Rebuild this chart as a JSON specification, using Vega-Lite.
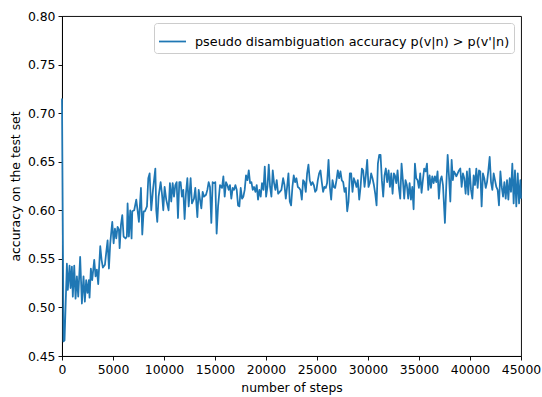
{
  "$schema": "https://vega.github.io/schema/vega-lite/v6.json",
  "width": 459,
  "height": 340,
  "autosize": "none",
  "padding": {"left": 62, "top": 16, "right": 21, "bottom": 41},
  "background": "white",
  "config": {
    "view": {"stroke": "black", "strokeWidth": 0.94},
    "axis": {
      "grid": false,
      "domainColor": "black",
      "domainWidth": 0.94,
      "tickColor": "black",
      "tickWidth": 0.94,
      "tickSize": 4,
      "labelPadding": 3,
      "labelFont": "DejaVu Sans",
      "labelFontSize": 12.4,
      "labelColor": "black",
      "titleFont": "DejaVu Sans",
      "titleFontSize": 12.4,
      "titleFontWeight": "normal",
      "titleColor": "black"
    },
    "legend": {
      "labelFont": "DejaVu Sans",
      "labelFontSize": 12.8,
      "labelColor": "black",
      "labelLimit": 500
    }
  },
  "data": {
    "values": [
      {"step": 0, "acc": 0.715}, {"step": 150, "acc": 0.465}, {"step": 250, "acc": 0.466},
      {"step": 480, "acc": 0.545}, {"step": 570, "acc": 0.518}, {"step": 740, "acc": 0.543},
      {"step": 840, "acc": 0.520}, {"step": 970, "acc": 0.542}, {"step": 1060, "acc": 0.511},
      {"step": 1200, "acc": 0.543}, {"step": 1330, "acc": 0.509}, {"step": 1460, "acc": 0.532},
      {"step": 1590, "acc": 0.511}, {"step": 1780, "acc": 0.552}, {"step": 1950, "acc": 0.504},
      {"step": 2110, "acc": 0.532}, {"step": 2240, "acc": 0.506}, {"step": 2370, "acc": 0.528},
      {"step": 2500, "acc": 0.515}, {"step": 2630, "acc": 0.528}, {"step": 2700, "acc": 0.510},
      {"step": 2830, "acc": 0.540}, {"step": 2960, "acc": 0.528}, {"step": 3160, "acc": 0.549},
      {"step": 3290, "acc": 0.532}, {"step": 3420, "acc": 0.539}, {"step": 3550, "acc": 0.524},
      {"step": 3750, "acc": 0.563}, {"step": 3880, "acc": 0.549}, {"step": 4010, "acc": 0.541},
      {"step": 4210, "acc": 0.544}, {"step": 4340, "acc": 0.557}, {"step": 4470, "acc": 0.569},
      {"step": 4600, "acc": 0.540}, {"step": 4730, "acc": 0.566}, {"step": 4860, "acc": 0.581},
      {"step": 4930, "acc": 0.588}, {"step": 5060, "acc": 0.566}, {"step": 5190, "acc": 0.581},
      {"step": 5320, "acc": 0.571}, {"step": 5450, "acc": 0.583}, {"step": 5580, "acc": 0.580},
      {"step": 5650, "acc": 0.561}, {"step": 5780, "acc": 0.585}, {"step": 5910, "acc": 0.595},
      {"step": 6040, "acc": 0.573}, {"step": 6230, "acc": 0.571}, {"step": 6360, "acc": 0.573},
      {"step": 6430, "acc": 0.607}, {"step": 6560, "acc": 0.573}, {"step": 6690, "acc": 0.600},
      {"step": 6820, "acc": 0.571}, {"step": 6890, "acc": 0.599}, {"step": 7080, "acc": 0.600},
      {"step": 7280, "acc": 0.611}, {"step": 7410, "acc": 0.600}, {"step": 7540, "acc": 0.588},
      {"step": 7740, "acc": 0.623}, {"step": 7870, "acc": 0.575}, {"step": 8000, "acc": 0.599},
      {"step": 8130, "acc": 0.599}, {"step": 8330, "acc": 0.604}, {"step": 8460, "acc": 0.633},
      {"step": 8590, "acc": 0.638}, {"step": 8750, "acc": 0.600}, {"step": 8920, "acc": 0.621},
      {"step": 9150, "acc": 0.643}, {"step": 9240, "acc": 0.600}, {"step": 9340, "acc": 0.588},
      {"step": 9470, "acc": 0.614}, {"step": 9670, "acc": 0.629}, {"step": 9800, "acc": 0.617},
      {"step": 9930, "acc": 0.600},
      {"step": 10060, "acc": 0.624}, {"step": 10220, "acc": 0.611}, {"step": 10450, "acc": 0.600},
      {"step": 10580, "acc": 0.628}, {"step": 10710, "acc": 0.609}, {"step": 10850, "acc": 0.628},
      {"step": 10980, "acc": 0.614}, {"step": 11110, "acc": 0.626}, {"step": 11240, "acc": 0.629},
      {"step": 11370, "acc": 0.592}, {"step": 11500, "acc": 0.629}, {"step": 11630, "acc": 0.629},
      {"step": 11760, "acc": 0.614}, {"step": 11890, "acc": 0.621}, {"step": 12020, "acc": 0.591},
      {"step": 12150, "acc": 0.617}, {"step": 12290, "acc": 0.633}, {"step": 12420, "acc": 0.604},
      {"step": 12610, "acc": 0.633}, {"step": 12740, "acc": 0.607}, {"step": 12940, "acc": 0.612},
      {"step": 13070, "acc": 0.623}, {"step": 13270, "acc": 0.593}, {"step": 13400, "acc": 0.621},
      {"step": 13530, "acc": 0.611}, {"step": 13660, "acc": 0.602}, {"step": 13790, "acc": 0.619},
      {"step": 13920, "acc": 0.614}, {"step": 14120, "acc": 0.616}, {"step": 14250, "acc": 0.621},
      {"step": 14380, "acc": 0.629}, {"step": 14510, "acc": 0.624}, {"step": 14640, "acc": 0.587},
      {"step": 14770, "acc": 0.629}, {"step": 14900, "acc": 0.628}, {"step": 15030, "acc": 0.629},
      {"step": 15160, "acc": 0.576}, {"step": 15300, "acc": 0.604}, {"step": 15490, "acc": 0.626},
      {"step": 15690, "acc": 0.623}, {"step": 15820, "acc": 0.635}, {"step": 15950, "acc": 0.614},
      {"step": 16080, "acc": 0.629}, {"step": 16210, "acc": 0.626}, {"step": 16340, "acc": 0.621},
      {"step": 16470, "acc": 0.626}, {"step": 16600, "acc": 0.612}, {"step": 16740, "acc": 0.623},
      {"step": 16870, "acc": 0.621}, {"step": 17000, "acc": 0.626}, {"step": 17130, "acc": 0.621},
      {"step": 17260, "acc": 0.605}, {"step": 17390, "acc": 0.604}, {"step": 17520, "acc": 0.623},
      {"step": 17650, "acc": 0.612}, {"step": 17780, "acc": 0.614}, {"step": 17910, "acc": 0.621},
      {"step": 18040, "acc": 0.636}, {"step": 18180, "acc": 0.631}, {"step": 18310, "acc": 0.641},
      {"step": 18440, "acc": 0.628}, {"step": 18570, "acc": 0.629}, {"step": 18700, "acc": 0.621},
      {"step": 18830, "acc": 0.624}, {"step": 18960, "acc": 0.619}, {"step": 19090, "acc": 0.626},
      {"step": 19220, "acc": 0.611}, {"step": 19350, "acc": 0.621}, {"step": 19480, "acc": 0.614},
      {"step": 19610, "acc": 0.628}, {"step": 19750, "acc": 0.621}, {"step": 19880, "acc": 0.645},
      {"step": 20010, "acc": 0.614}, {"step": 20140, "acc": 0.624}, {"step": 20270, "acc": 0.647},
      {"step": 20400, "acc": 0.624}, {"step": 20530, "acc": 0.614}, {"step": 20660, "acc": 0.641},
      {"step": 20790, "acc": 0.628}, {"step": 20920, "acc": 0.621}, {"step": 21050, "acc": 0.631},
      {"step": 21190, "acc": 0.617},
      {"step": 21350, "acc": 0.619}, {"step": 21510, "acc": 0.621}, {"step": 21680, "acc": 0.633},
      {"step": 21810, "acc": 0.626}, {"step": 21940, "acc": 0.612}, {"step": 22070, "acc": 0.624},
      {"step": 22200, "acc": 0.638}, {"step": 22330, "acc": 0.609}, {"step": 22460, "acc": 0.605},
      {"step": 22590, "acc": 0.624}, {"step": 22720, "acc": 0.636}, {"step": 22850, "acc": 0.629},
      {"step": 22980, "acc": 0.633}, {"step": 23120, "acc": 0.624}, {"step": 23250, "acc": 0.623},
      {"step": 23380, "acc": 0.621}, {"step": 23510, "acc": 0.611}, {"step": 23640, "acc": 0.631},
      {"step": 23770, "acc": 0.629}, {"step": 23900, "acc": 0.619}, {"step": 24030, "acc": 0.638},
      {"step": 24160, "acc": 0.647}, {"step": 24290, "acc": 0.631}, {"step": 24420, "acc": 0.626},
      {"step": 24560, "acc": 0.629}, {"step": 24690, "acc": 0.626}, {"step": 24820, "acc": 0.619},
      {"step": 24950, "acc": 0.621}, {"step": 25080, "acc": 0.631}, {"step": 25210, "acc": 0.638},
      {"step": 25340, "acc": 0.641}, {"step": 25470, "acc": 0.629}, {"step": 25600, "acc": 0.619},
      {"step": 25730, "acc": 0.624}, {"step": 25860, "acc": 0.623}, {"step": 25990, "acc": 0.628},
      {"step": 26130, "acc": 0.652}, {"step": 26260, "acc": 0.624}, {"step": 26390, "acc": 0.611},
      {"step": 26520, "acc": 0.631}, {"step": 26650, "acc": 0.624}, {"step": 26780, "acc": 0.623},
      {"step": 26910, "acc": 0.631}, {"step": 27040, "acc": 0.641}, {"step": 27170, "acc": 0.633},
      {"step": 27300, "acc": 0.640}, {"step": 27430, "acc": 0.631}, {"step": 27570, "acc": 0.629},
      {"step": 27700, "acc": 0.619}, {"step": 27830, "acc": 0.623}, {"step": 27960, "acc": 0.599},
      {"step": 28090, "acc": 0.609}, {"step": 28220, "acc": 0.638}, {"step": 28350, "acc": 0.638},
      {"step": 28480, "acc": 0.619}, {"step": 28610, "acc": 0.633}, {"step": 28740, "acc": 0.629},
      {"step": 28870, "acc": 0.624}, {"step": 29000, "acc": 0.631}, {"step": 29140, "acc": 0.611},
      {"step": 29270, "acc": 0.624}, {"step": 29400, "acc": 0.643}, {"step": 29530, "acc": 0.641},
      {"step": 29660, "acc": 0.624}, {"step": 29790, "acc": 0.636}, {"step": 29920, "acc": 0.652},
      {"step": 30050, "acc": 0.624}, {"step": 30180, "acc": 0.628}, {"step": 30310, "acc": 0.638},
      {"step": 30440, "acc": 0.633}, {"step": 30580, "acc": 0.626}, {"step": 30710, "acc": 0.617},
      {"step": 30840, "acc": 0.605}, {"step": 30970, "acc": 0.648}, {"step": 31100, "acc": 0.657},
      {"step": 31230, "acc": 0.657}, {"step": 31360, "acc": 0.631}, {"step": 31490, "acc": 0.614},
      {"step": 31620, "acc": 0.636}, {"step": 31750, "acc": 0.643}, {"step": 31880, "acc": 0.629},
      {"step": 32020, "acc": 0.641}, {"step": 32150, "acc": 0.624}, {"step": 32280, "acc": 0.638},
      {"step": 32410, "acc": 0.617}, {"step": 32540, "acc": 0.638},
      {"step": 32640, "acc": 0.636}, {"step": 32770, "acc": 0.628}, {"step": 32900, "acc": 0.641},
      {"step": 33030, "acc": 0.623}, {"step": 33160, "acc": 0.612}, {"step": 33290, "acc": 0.648},
      {"step": 33420, "acc": 0.631}, {"step": 33550, "acc": 0.612}, {"step": 33680, "acc": 0.631},
      {"step": 33810, "acc": 0.626}, {"step": 33940, "acc": 0.612}, {"step": 34080, "acc": 0.628},
      {"step": 34210, "acc": 0.611}, {"step": 34340, "acc": 0.624}, {"step": 34470, "acc": 0.601},
      {"step": 34600, "acc": 0.648}, {"step": 34730, "acc": 0.633}, {"step": 34860, "acc": 0.631},
      {"step": 34990, "acc": 0.623}, {"step": 35120, "acc": 0.638}, {"step": 35250, "acc": 0.618},
      {"step": 35380, "acc": 0.631}, {"step": 35510, "acc": 0.643}, {"step": 35650, "acc": 0.640},
      {"step": 35780, "acc": 0.648}, {"step": 35910, "acc": 0.621}, {"step": 36040, "acc": 0.636},
      {"step": 36170, "acc": 0.623}, {"step": 36300, "acc": 0.635}, {"step": 36430, "acc": 0.628},
      {"step": 36560, "acc": 0.635}, {"step": 36690, "acc": 0.629}, {"step": 36820, "acc": 0.640},
      {"step": 36950, "acc": 0.612}, {"step": 37090, "acc": 0.631}, {"step": 37220, "acc": 0.635},
      {"step": 37350, "acc": 0.626}, {"step": 37540, "acc": 0.587}, {"step": 37670, "acc": 0.624},
      {"step": 37810, "acc": 0.657}, {"step": 37940, "acc": 0.635}, {"step": 38070, "acc": 0.609},
      {"step": 38200, "acc": 0.652}, {"step": 38320, "acc": 0.631}, {"step": 38430, "acc": 0.640},
      {"step": 38540, "acc": 0.638}, {"step": 38660, "acc": 0.635}, {"step": 38790, "acc": 0.638},
      {"step": 38920, "acc": 0.641}, {"step": 39050, "acc": 0.643}, {"step": 39180, "acc": 0.624},
      {"step": 39310, "acc": 0.638}, {"step": 39440, "acc": 0.633}, {"step": 39570, "acc": 0.617},
      {"step": 39700, "acc": 0.640}, {"step": 39830, "acc": 0.616}, {"step": 39960, "acc": 0.643},
      {"step": 40100, "acc": 0.621}, {"step": 40230, "acc": 0.612}, {"step": 40360, "acc": 0.636},
      {"step": 40490, "acc": 0.626}, {"step": 40620, "acc": 0.643}, {"step": 40750, "acc": 0.623},
      {"step": 40880, "acc": 0.641}, {"step": 41010, "acc": 0.640}, {"step": 41140, "acc": 0.604},
      {"step": 41270, "acc": 0.638}, {"step": 41400, "acc": 0.633}, {"step": 41540, "acc": 0.623},
      {"step": 41670, "acc": 0.629}, {"step": 41800, "acc": 0.641}, {"step": 41930, "acc": 0.655},
      {"step": 42060, "acc": 0.629}, {"step": 42190, "acc": 0.621}, {"step": 42320, "acc": 0.638},
      {"step": 42450, "acc": 0.631}, {"step": 42580, "acc": 0.624}, {"step": 42710, "acc": 0.621},
      {"step": 42840, "acc": 0.605}, {"step": 42980, "acc": 0.640}, {"step": 43110, "acc": 0.624},
      {"step": 43240, "acc": 0.614}, {"step": 43370, "acc": 0.629}, {"step": 43500, "acc": 0.612},
      {"step": 43630, "acc": 0.631}, {"step": 43760, "acc": 0.611}, {"step": 43890, "acc": 0.633},
      {"step": 44020, "acc": 0.619}, {"step": 44150, "acc": 0.648}, {"step": 44280, "acc": 0.607},
      {"step": 44410, "acc": 0.641}, {"step": 44540, "acc": 0.604}, {"step": 44680, "acc": 0.638},
      {"step": 44810, "acc": 0.607}, {"step": 44940, "acc": 0.631}, {"step": 45000, "acc": 0.612}
    ]
  },
  "mark": {"type": "line", "strokeWidth": 1.76, "strokeJoin": "round", "strokeCap": "butt"},
  "encoding": {
    "x": {
      "field": "step",
      "type": "quantitative",
      "scale": {"domain": [0, 45000], "nice": false, "zero": false},
      "axis": {
        "title": "number of steps",
        "values": [0, 5000, 10000, 15000, 20000, 25000, 30000, 35000, 40000, 45000],
        "format": "d",
        "labelFlush": false,
        "labelOverlap": false,
        "titlePadding": 6
      }
    },
    "y": {
      "field": "acc",
      "type": "quantitative",
      "scale": {"domain": [0.45, 0.8], "nice": false, "zero": false},
      "axis": {
        "title": "accuracy on the test set",
        "values": [0.45, 0.5, 0.55, 0.6, 0.65, 0.7, 0.75, 0.8],
        "format": ".2f",
        "labelFlush": false,
        "labelOverlap": false,
        "titlePadding": 5
      }
    },
    "color": {
      "datum": "pseudo disambiguation accuracy p(v|n) > p(v'|n)",
      "type": "nominal",
      "scale": {"range": ["#1f77b4"]},
      "legend": {
        "title": null,
        "orient": "top-right",
        "offset": 7,
        "symbolType": "stroke",
        "symbolSize": 730,
        "symbolStrokeWidth": 1.76,
        "labelOffset": 8,
        "padding": 4,
        "strokeColor": "#cccccc",
        "fillColor": "white",
        "cornerRadius": 3
      }
    }
  }
}
